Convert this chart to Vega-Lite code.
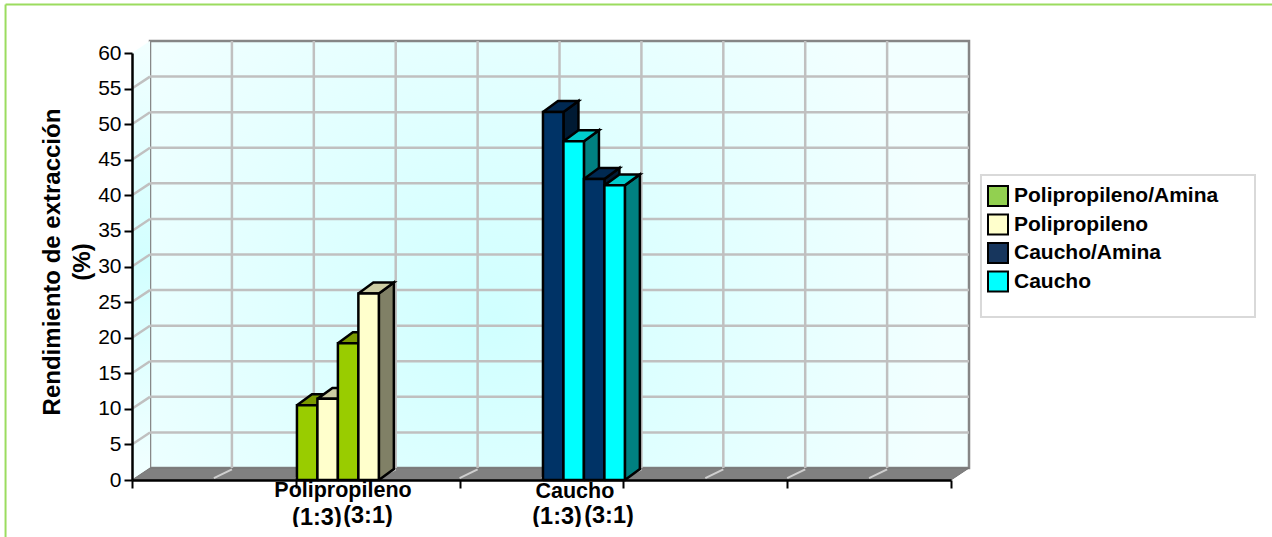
{
  "$schema": "https://vega.github.io/schema/vega-lite/v6.json",
  "width": 819,
  "height": 427,
  "autosize": "none",
  "padding": {"left": 132, "top": 53, "right": 321, "bottom": 57},
  "background": "#ffffff",
  "config": {"view": {"stroke": null}, "font": "Liberation Sans"},
  "datasets": {
    "bars": [
      {"group": "Polipropileno", "series": "Polipropileno/Amina", "slot": 0, "value": 10.5},
      {"group": "Polipropileno", "series": "Polipropileno", "slot": 1, "value": 11.4},
      {"group": "Polipropileno", "series": "Polipropileno/Amina", "slot": 2, "value": 19.2},
      {"group": "Polipropileno", "series": "Polipropileno", "slot": 3, "value": 26.2},
      {"group": "Caucho", "series": "Caucho/Amina", "slot": 0, "value": 51.7},
      {"group": "Caucho", "series": "Caucho", "slot": 1, "value": 47.6},
      {"group": "Caucho", "series": "Caucho/Amina", "slot": 2, "value": 42.3},
      {"group": "Caucho", "series": "Caucho", "slot": 3, "value": 41.4}
    ],
    "levels": [{"v": 0}, {"v": 5}, {"v": 10}, {"v": 15}, {"v": 20}, {"v": 25}, {"v": 30}, {"v": 35}, {"v": 40}, {"v": 45}, {"v": 50}, {"v": 55}, {"v": 60}],
    "cuts": [{"c": 0.5}, {"c": 1}, {"c": 1.5}, {"c": 2}, {"c": 2.5}, {"c": 3}, {"c": 3.5}, {"c": 4}, {"c": 4.5}]
  },
  "encoding": {
    "x": {
      "field": "px",
      "type": "quantitative",
      "scale": {"domain": [0, 5], "nice": false, "zero": false},
      "axis": {
        "values": [0, 1, 2, 3, 4, 5],
        "labels": false,
        "title": null,
        "grid": false,
        "tickSize": 8,
        "tickWidth": 2,
        "tickColor": "#000000",
        "domainColor": "#000000",
        "domainWidth": 2.5,
        "zindex": 1
      }
    },
    "y": {
      "field": "pv",
      "type": "quantitative",
      "scale": {"domain": [0, 60], "nice": false, "zero": false},
      "axis": {
        "values": [0, 5, 10, 15, 20, 25, 30, 35, 40, 45, 50, 55, 60],
        "title": ["Rendimiento de extracción", "(%)"],
        "titleFont": "Liberation Sans",
        "titleFontSize": 24,
        "titleFontWeight": "bold",
        "titleColor": "#000000",
        "titleLineHeight": 30,
        "titlePadding": 3,
        "titleY": 208.5,
        "labelFont": "Liberation Sans",
        "labelFontSize": 21,
        "labelColor": "#000000",
        "labelPadding": 3,
        "grid": false,
        "tickSize": 8,
        "tickWidth": 2,
        "tickColor": "#000000",
        "domainColor": "#000000",
        "domainWidth": 2.5,
        "zindex": 1
      }
    }
  },
  "layer": [
    {
      "description": "Outer frame of the sheet",
      "data": {"values": [
        {"px": -0.772, "pv": -8.0, "px2": -0.772, "pv2": 66.8},
        {"px": -0.772, "pv": 66.8, "px2": 6.96, "pv2": 66.8}
      ]},
      "mark": {"type": "rule", "color": "#9bdc5f", "strokeWidth": 2},
      "encoding": {"x2": {"field": "px2"}, "y2": {"field": "pv2"}}
    },
    {
      "description": "Back wall",
      "data": {"values": [{"px": 0.11, "pv": 1.686, "px2": 5.11, "pv2": 61.686}]},
      "mark": {
        "type": "rect",
        "stroke": "#868686",
        "strokeWidth": 2.5,
        "fill": {
          "gradient": "radial", "x1": 0.42, "y1": 0.58, "r1": 0, "x2": 0.42, "y2": 0.58, "r2": 0.55,
          "stops": [{"offset": 0, "color": "#d0ffff"}, {"offset": 1, "color": "#f2ffff"}]
        }
      },
      "encoding": {"x2": {"field": "px2"}, "y2": {"field": "pv2"}}
    },
    {
      "description": "Side wall",
      "data": {"values": [
        {"k": 0, "px": 0, "pv": 60},
        {"k": 1, "px": 0.11, "pv": 61.686},
        {"k": 2, "px": 0.11, "pv": 1.686},
        {"k": 3, "px": 0, "pv": 0},
        {"k": 4, "px": 0, "pv": 60}
      ]},
      "mark": {
        "type": "line",
        "strokeWidth": 0,
        "fill": {
          "gradient": "linear", "x1": 0, "y1": 0, "x2": 0, "y2": 1,
          "stops": [{"offset": 0, "color": "#f2ffff"}, {"offset": 0.5, "color": "#d2ffff"}, {"offset": 1, "color": "#f2ffff"}]
        }
      },
      "encoding": {"order": {"field": "k"}}
    },
    {
      "description": "Floor",
      "data": {"values": [
        {"k": 0, "px": 0, "pv": 0},
        {"k": 1, "px": 5, "pv": 0},
        {"k": 2, "px": 5.11, "pv": 1.686},
        {"k": 3, "px": 0.11, "pv": 1.686},
        {"k": 4, "px": 0, "pv": 0}
      ]},
      "mark": {"type": "line", "fill": "#808080", "stroke": "#747474", "strokeWidth": 1},
      "encoding": {"order": {"field": "k"}}
    },
    {
      "description": "Horizontal grid on the back wall",
      "data": {"name": "levels"},
      "transform": [
        {"filter": "datum.v > 0 && datum.v < 60"},
        {"calculate": "0.11", "as": "px"},
        {"calculate": "5.11", "as": "px2"},
        {"calculate": "datum.v + 1.686", "as": "pv"}
      ],
      "mark": {"type": "rule", "color": "#c0c0c0", "strokeWidth": 2.5},
      "encoding": {"x2": {"field": "px2"}}
    },
    {
      "description": "Grid slanting across the side wall",
      "data": {"name": "levels"},
      "transform": [
        {"filter": "datum.v > 0 && datum.v < 60"},
        {"calculate": "0", "as": "px"},
        {"calculate": "0.11", "as": "px2"},
        {"calculate": "datum.v", "as": "pv"},
        {"calculate": "datum.v + 1.686", "as": "pv2"}
      ],
      "mark": {"type": "rule", "color": "#c0c0c0", "strokeWidth": 2.5},
      "encoding": {"x2": {"field": "px2"}, "y2": {"field": "pv2"}}
    },
    {
      "description": "Vertical grid on the back wall",
      "data": {"name": "cuts"},
      "transform": [
        {"calculate": "datum.c + 0.11", "as": "px"},
        {"calculate": "1.686", "as": "pv"},
        {"calculate": "61.686", "as": "pv2"}
      ],
      "mark": {"type": "rule", "color": "#c0c0c0", "strokeWidth": 2.5},
      "encoding": {"y2": {"field": "pv2"}}
    },
    {
      "description": "Grid slanting across the floor",
      "data": {"name": "cuts"},
      "transform": [
        {"calculate": "datum.c", "as": "px"},
        {"calculate": "datum.c + 0.11", "as": "px2"},
        {"calculate": "0.25", "as": "pv"},
        {"calculate": "1.5", "as": "pv2"}
      ],
      "mark": {"type": "rule", "color": "#cfcfcf", "strokeWidth": 2},
      "encoding": {"x2": {"field": "px2"}, "y2": {"field": "pv2"}}
    },
    {
      "description": "Box behind the legend",
      "data": {"values": [{"px": 5.183, "px2": 6.856, "pv": 42.85, "pv2": 22.9}]},
      "mark": {"type": "rect", "fill": "#ffffff", "stroke": "#d9d9d9", "strokeWidth": 2},
      "encoding": {"x2": {"field": "px2"}, "y2": {"field": "pv2"}}
    },
    {
      "description": "Extruded bars: side, top and front face of each one, in row order",
      "data": {"name": "bars"},
      "transform": [
        {"calculate": "(datum.group === 'Caucho' ? 2.509 : 1.007) + datum.slot * 0.125", "as": "x0"},
        {"calculate": "datum.x0 + 0.125", "as": "x1"},
        {"calculate": "['side', 'top', 'front']", "as": "face"},
        {"flatten": ["face"]},
        {"calculate": "[0, 1, 2, 3, 4]", "as": "k"},
        {"flatten": ["k"]},
        {"calculate": "datum.face === 'side' ? [datum.x1, datum.x1, datum.x1 + 0.0916, datum.x1 + 0.0916, datum.x1][datum.k] : datum.face === 'top' ? [datum.x0, datum.x1, datum.x1 + 0.0916, datum.x0 + 0.0916, datum.x0][datum.k] : [datum.x0, datum.x1, datum.x1, datum.x0, datum.x0][datum.k]", "as": "px"},
        {"calculate": "datum.face === 'side' ? [0, datum.value, datum.value + 1.545, 1.545, 0][datum.k] : datum.face === 'top' ? [datum.value, datum.value, datum.value + 1.545, datum.value + 1.545, datum.value][datum.k] : [0, 0, datum.value, datum.value, 0][datum.k]", "as": "pv"},
        {"calculate": "datum.series + '|' + datum.face", "as": "paint"},
        {"calculate": "datum.group + datum.slot + datum.face", "as": "faceId"}
      ],
      "mark": {"type": "line", "stroke": "#000000", "strokeWidth": 2.5, "strokeJoin": "miter"},
      "encoding": {
        "detail": {"field": "faceId"},
        "order": {"field": "k"},
        "fill": {
          "field": "paint",
          "legend": null,
          "scale": {
            "domain": [
              "Polipropileno/Amina|front", "Polipropileno/Amina|top", "Polipropileno/Amina|side",
              "Polipropileno|front", "Polipropileno|top", "Polipropileno|side",
              "Caucho/Amina|front", "Caucho/Amina|top", "Caucho/Amina|side",
              "Caucho|front", "Caucho|top", "Caucho|side"
            ],
            "range": [
              "#99cc00", "#7a9900", "#4d6600",
              "#ffffcc", "#cccca3", "#808066",
              "#003366", "#002952", "#001a33",
              "#00ffff", "#00cccc", "#008080"
            ]
          }
        }
      }
    },
    {
      "description": "Category names under the axis",
      "data": {"values": [
        {"label": "Polipropileno", "px": 1.288, "pv": -1.5},
        {"label": "Caucho", "px": 2.704, "pv": -1.7}
      ]},
      "mark": {"type": "text", "font": "Liberation Sans", "fontSize": 21.5, "fontWeight": "bold", "color": "#000000", "baseline": "middle", "align": "center"},
      "encoding": {"text": {"field": "label"}}
    },
    {
      "description": "Mixing ratios below each category name",
      "data": {"values": [
        {"label": "(1:3)", "px": 1.129, "pv": -5.3},
        {"label": "(3:1)", "px": 1.441, "pv": -5.0},
        {"label": "(1:3)", "px": 2.595, "pv": -5.2},
        {"label": "(3:1)", "px": 2.912, "pv": -5.0}
      ]},
      "mark": {"type": "text", "font": "Liberation Sans", "fontSize": 23.5, "fontWeight": "bold", "color": "#000000", "baseline": "middle", "align": "center"},
      "encoding": {"text": {"field": "label"}}
    },
    {
      "description": "Blank strip that trims the ratio text at the sheet's lower edge",
      "data": {"values": [{"px": -0.76, "px2": 6.96, "pv": -6.6, "pv2": -8.0}]},
      "mark": {"type": "rect", "fill": "#ffffff"},
      "encoding": {"x2": {"field": "px2"}, "y2": {"field": "pv2"}}
    },
    {
      "description": "Legend carrier; its marks have no size",
      "data": {"name": "bars"},
      "mark": {"type": "square", "size": 0},
      "encoding": {
        "x": {"field": "slot", "type": "quantitative"},
        "y": {"field": "value", "type": "quantitative"},
        "fill": {
          "field": "series",
          "type": "nominal",
          "scale": {
            "domain": ["Polipropileno/Amina", "Polipropileno", "Caucho/Amina", "Caucho"],
            "range": ["#92d050", "#ffffcc", "#17365d", "#00ffff"]
          },
          "legend": {
            "title": null,
            "orient": "none",
            "legendX": 855,
            "legendY": 132,
            "padding": 0,
            "symbolType": "square",
            "symbolSize": 400,
            "symbolStrokeColor": "#000000",
            "symbolStrokeWidth": 2,
            "symbolOpacity": 1,
            "rowPadding": 0.5,
            "labelFont": "Liberation Sans",
            "labelFontSize": 21,
            "labelFontWeight": "bold",
            "labelColor": "#000000",
            "labelOffset": 5,
            "labelLimit": 300
          }
        }
      }
    }
  ],
  "resolve": {"scale": {"fill": "independent"}}
}
